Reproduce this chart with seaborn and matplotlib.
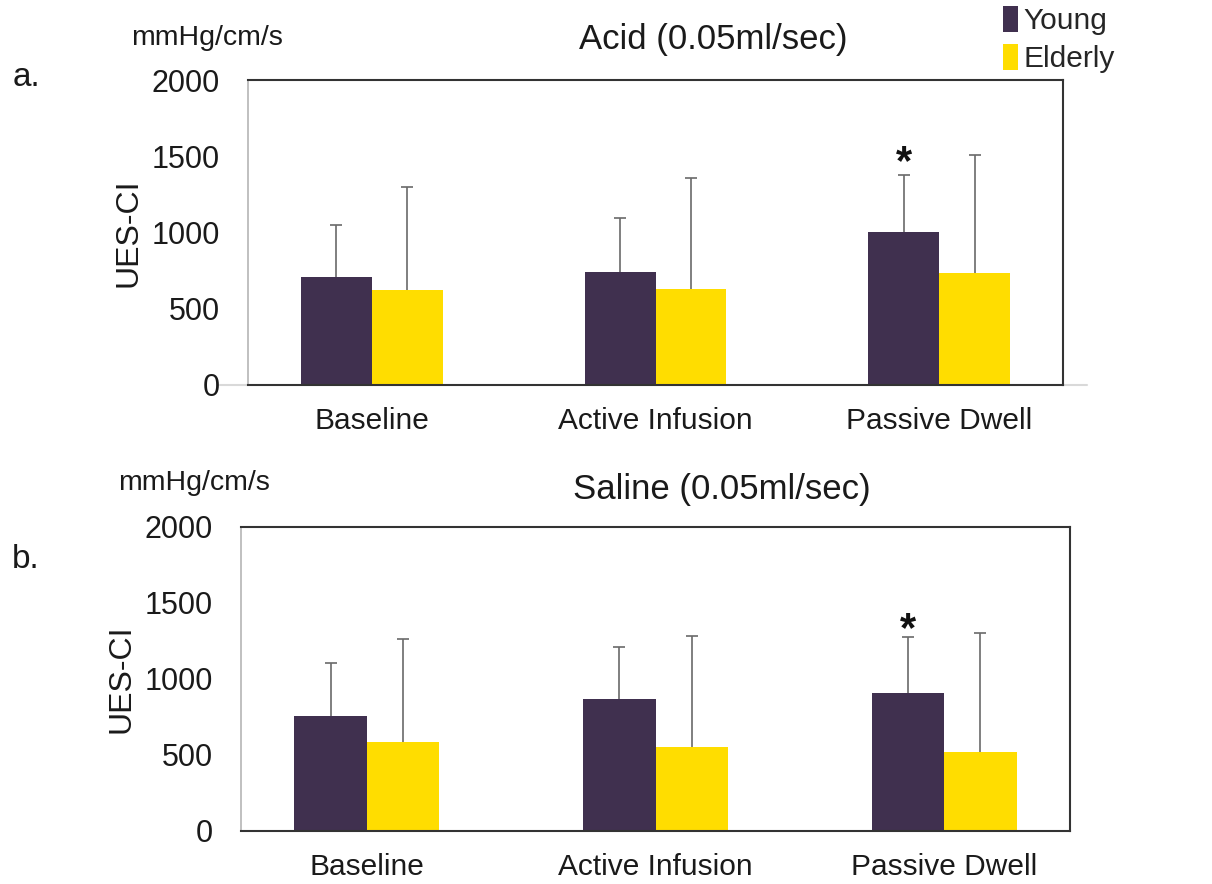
import matplotlib
matplotlib.use("Agg")
import matplotlib.pyplot as plt
import seaborn as sns
import pandas as pd

# Data: UES-CI (mmHg/cm/s), mean and SD per phase and age group
phases = ["Baseline", "Active Infusion", "Passive Dwell"]
groups = ["Young", "Elderly"]

acid_young_mean = [710, 743, 1001]
acid_young_sd = [339, 350, 376]
acid_elderly_mean = [623, 627, 732]
acid_elderly_sd = [677, 728, 776]

saline_young_mean = [758, 866, 910]
saline_young_sd = [346, 343, 365]
saline_elderly_mean = [585, 554, 521]
saline_elderly_sd = [679, 732, 781]

yticks = [0, 500, 1000, 1500, 2000]
colors = {"Young": "#40304f", "Elderly": "#ffdd00"}

sns.set_theme(style="white")
plt.rcParams["font.family"] = ["Liberation Sans", "DejaVu Sans"]

fig = plt.figure(figsize=(12.12, 8.84), dpi=100)
W, H = 1212, 884
TXT = "#1a1a1a"


def px_axes(left, top, right, bottom):
    return fig.add_axes([left / W, 1 - bottom / H, (right - left) / W, (bottom - top) / H])


panels = [
    dict(ax=px_axes(248, 80, 1063, 385), title="Acid (0.05ml/sec)", letter="a.",
         ym=acid_young_mean, ys=acid_young_sd, em=acid_elderly_mean, es=acid_elderly_sd,
         unit_xy=(207, 38), title_xy=(713, 40), letter_xy=(26, 78), stub=True, star_gap=-50),
    dict(ax=px_axes(241, 527, 1070, 831), title="Saline (0.05ml/sec)", letter="b.",
         ym=saline_young_mean, ys=saline_young_sd, em=saline_elderly_mean, es=saline_elderly_sd,
         unit_xy=(194, 483), title_xy=(722, 490), letter_xy=(26, 560), stub=False, star_gap=-85),
]

for i, p in enumerate(panels):
    ax = p["ax"]
    df = pd.DataFrame({
        "phase": phases * 2,
        "group": [groups[0]] * 3 + [groups[1]] * 3,
        "value": p["ym"] + p["em"],
    })
    sns.barplot(data=df, x="phase", y="value", hue="group", order=phases,
                hue_order=groups, palette=colors, width=0.5, errorbar=None,
                saturation=1, linewidth=0, ax=ax, legend=(i == 0))

    # upper-only SD whiskers on each bar
    for container, sds in zip(ax.containers, [p["ys"], p["es"]]):
        for bar, sd in zip(container, sds):
            x = bar.get_x() + bar.get_width() / 2
            h = bar.get_height()
            _, caps, _ = ax.errorbar(x, h, yerr=[[0], [sd]], fmt="none", ecolor="#6a6a6a",
                                     elinewidth=1.2, capsize=4, capthick=1.2, zorder=3)
            caps[0].set_visible(False)

    # significance marker above the young passive-dwell bar
    star_bar = ax.containers[0][2]
    ax.text(star_bar.get_x() + star_bar.get_width() / 2,
            star_bar.get_height() + p["ys"][2] + p["star_gap"], "*",
            ha="center", va="bottom", fontsize=30, fontweight="bold", color="#111111")

    ax.set_ylim(0, 2000)
    ax.set_xlim(-0.435, 2.435)
    ax.set_yticks(yticks)
    ax.set_yticklabels([str(t) for t in yticks])
    ax.set_xlabel("")
    ax.set_ylabel("UES-CI", fontsize=23, color=TXT, labelpad=6)
    ax.tick_params(axis="y", length=0, pad=20, labelsize=22, labelcolor=TXT)
    ax.tick_params(axis="x", length=0, pad=16, labelsize=21.5, labelcolor=TXT)

    for side in ["top", "right", "bottom"]:
        ax.spines[side].set_color("#333333")
        ax.spines[side].set_linewidth(1.5)
    ax.spines["left"].set_color("#b5b5b5")
    ax.spines["left"].set_linewidth(1.2)

    if p["stub"]:
        for xs in ([-0.034, 0.0], [1.0, 1.03]):
            ax.plot(xs, [0, 0], transform=ax.transAxes, color="#d9d9d9",
                    lw=1.5, clip_on=False, zorder=0)

    fig.text(p["unit_xy"][0] / W, 1 - p["unit_xy"][1] / H, "mmHg/cm/s",
             ha="center", va="center", fontsize=20.5, color=TXT)
    fig.text(p["title_xy"][0] / W, 1 - p["title_xy"][1] / H, p["title"],
             ha="center", va="center", fontsize=25, color=TXT)
    fig.text(p["letter_xy"][0] / W, 1 - p["letter_xy"][1] / H, p["letter"],
             ha="center", va="center", fontsize=24, color=TXT)

top_ax = panels[0]["ax"]
handles, labels = top_ax.get_legend_handles_labels()
top_ax.get_legend().remove()
fig.legend(handles, labels, loc="upper left", bbox_to_anchor=(1003 / W, 1 - 6 / H),
           frameon=False, fontsize=21.5, handlelength=0.5, handleheight=0.95,
           handletextpad=0.2, labelspacing=0.3, borderaxespad=0, borderpad=0)

fig.savefig("out.png", dpi=100, facecolor="white")
